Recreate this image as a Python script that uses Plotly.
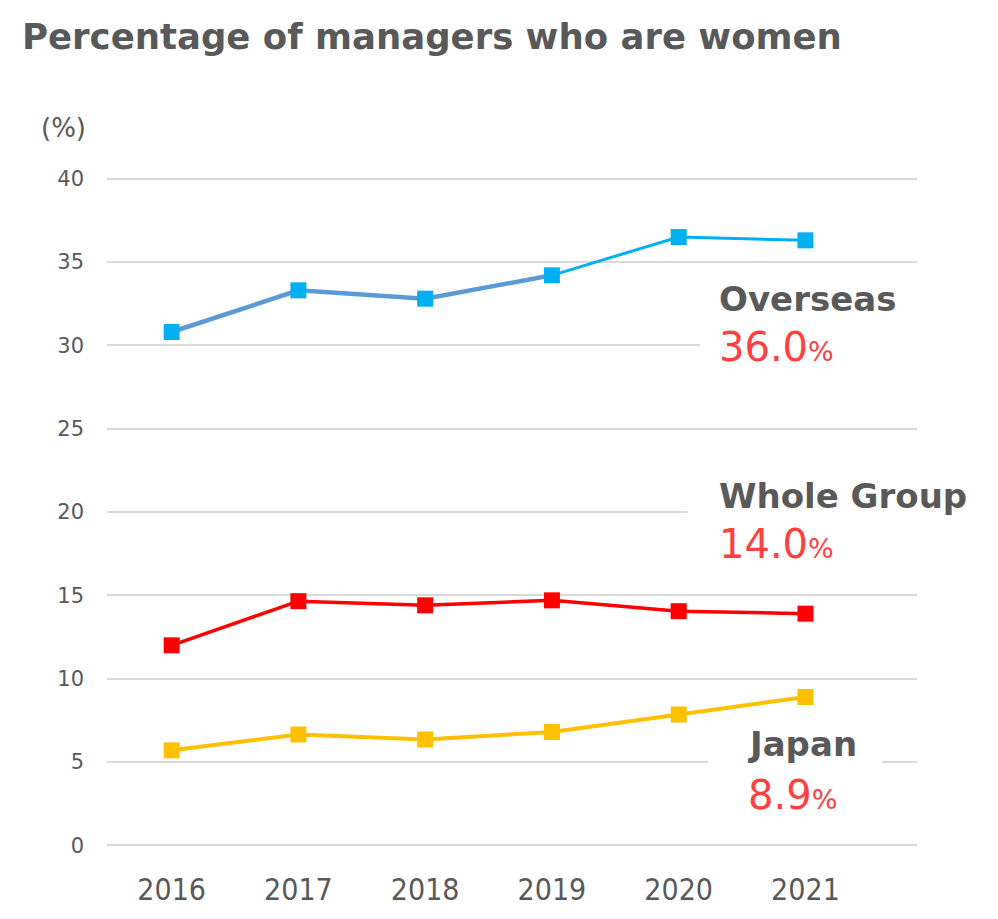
import plotly.graph_objects as go

years = ["2016", "2017", "2018", "2019", "2020", "2021"]
overseas = [30.8, 33.3, 32.8, 34.2, 36.5, 36.3]
whole_group = [12.0, 14.65, 14.4, 14.7, 14.05, 13.9]
japan = [5.7, 6.65, 6.35, 6.8, 7.85, 8.9]
y_ticks = [0, 5, 10, 15, 20, 25, 30, 35, 40]

GREY = "#595959"
RED_TXT = "#FF4040"
FONT = "DejaVu Sans"

fig = go.Figure()

# Overseas: early segments medium blue, later light blue
fig.add_trace(go.Scatter(x=years[:4], y=overseas[:4], mode="lines",
                         line=dict(color="#5B9BD5", width=4.5), hoverinfo="skip"))
fig.add_trace(go.Scatter(x=years[3:], y=overseas[3:], mode="lines",
                         line=dict(color="#00B0F0", width=3), hoverinfo="skip"))
fig.add_trace(go.Scatter(x=years, y=overseas, mode="markers",
                         marker=dict(symbol="square", size=16, color="#00B0F0")))

fig.add_trace(go.Scatter(x=years, y=whole_group, mode="lines+markers",
                         line=dict(color="#FF0000", width=3.5),
                         marker=dict(symbol="square", size=16, color="#FF0000")))
fig.add_trace(go.Scatter(x=years, y=japan, mode="lines+markers",
                         line=dict(color="#FFC000", width=4),
                         marker=dict(symbol="square", size=16, color="#FFC000")))

# white boxes hiding gridlines behind labels
for x0, x1, y0, y1 in [(0.732, 1.0, 28.0, 33.0), (0.717, 1.0, 18.0, 22.0), (0.742, 0.957, 3.0, 7.5)]:
    fig.add_shape(type="rect", xref="paper", yref="y", x0=x0, x1=x1, y0=y0, y1=y1,
                  fillcolor="white", line=dict(width=0), layer="above")


def label(x, y, name):
    fig.add_annotation(x=x, y=y, xref="x", yref="y", xanchor="left", yanchor="middle",
                       text=f"<b>{name}</b>", showarrow=False,
                       font=dict(family=FONT, size=34, color=GREY))


def value_label(x, y, value):
    fig.add_annotation(x=x, y=y, xref="x", yref="y", xanchor="left", yanchor="middle",
                       text=f"{value}<span style='font-size:27px'>%</span>", showarrow=False,
                       font=dict(family=FONT, size=40, color=RED_TXT))


label(4.30, 32.8, "Overseas")
value_label(4.30, 29.9, "36.0")
label(4.30, 20.95, "Whole Group")
value_label(4.30, 18.1, "14.0")
label(4.53, 6.1, "Japan")
value_label(4.53, 3.0, "8.9")

# page body has an 8px margin: figure is sized/offset to compensate
W, H = 990, 911
L, R, T, B = 99, 81, 169, 70
plot_h = H - T - B
plot_w = W - L - R

fig.add_annotation(x=(63 - 8 - L) / plot_w, y=1 + (179 - 130) / plot_h,
                   xref="paper", yref="paper", showarrow=False, xanchor="center", yanchor="middle",
                   text="(%)", font=dict(family=FONT, size=26, color=GREY))

fig.update_layout(
    width=W, height=H,
    margin=dict(l=L, r=R, t=T, b=B),
    plot_bgcolor="white", paper_bgcolor="white",
    showlegend=False,
    title=dict(text="<b>Percentage of managers who are women</b>", x=14 / W, xanchor="left",
               y=1 - 29 / H, yanchor="middle",
               font=dict(family=FONT, size=35.5, color=GREY)),
    xaxis=dict(range=[-0.51, 5.88], showgrid=False, showline=False, zeroline=False,
               tickfont=dict(family="DejaVu Sans Condensed", size=30, color=GREY),
               ticks="", ticklabelstandoff=22),
    yaxis=dict(range=[-0.1, 40.1], tickvals=y_ticks, showgrid=True, gridcolor="#D9D9D9", gridwidth=2,
               zeroline=False, showline=False,
               tickfont=dict(family=FONT, size=21, color=GREY),
               ticks="", ticklabelstandoff=22),
)

fig.write_html("out.html")
